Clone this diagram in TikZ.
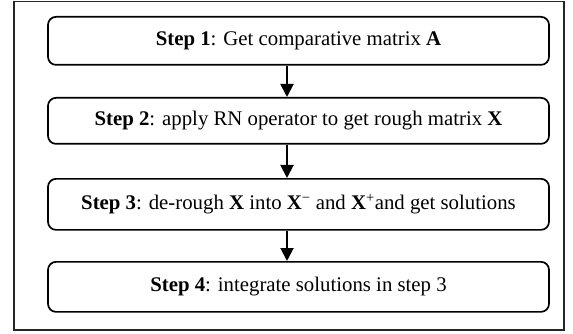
\documentclass[tikz,border=0pt]{standalone}
\usepackage{fontspec}
\setmainfont{Liberation Serif}
\usetikzlibrary{arrows.meta}
\newcommand{\up}[1]{\raisebox{4pt}{#1}}
\begin{document}
\begin{tikzpicture}[x=1pt,y=-1pt,
  stepbox/.style={draw=black,line width=1.7pt,rounded corners=8pt,minimum width=501pt,inner sep=0pt,font=\fontsize{20.8}{24}\selectfont,anchor=north},
  flow/.style={line width=1.9pt,-{Triangle[width=13pt,length=13pt]}}]
\useasboundingbox (0,0) rectangle (573,334);
\draw[line width=1.4pt,draw=black!85] (14,1.5) rectangle (564,330);
\node[stepbox,minimum height=48pt] (b1) at (298.5,16) {\up{\textbf{Step 1}: Get comparative matrix \textbf{A}}};
\node[stepbox,minimum height=46pt] (b2) at (298.5,97) {\up{\textbf{Step 2}: apply RN operator to get rough matrix \textbf{X}}};
\node[stepbox,minimum height=51pt] (b3) at (298.5,178) {\up{\textbf{Step 3}: de-rough \textbf{X} into \textbf{X}\textsuperscript{\char"2212} and \textbf{X}\textsuperscript{+}and get solutions}};
\node[stepbox,minimum height=50pt] (b4) at (298.5,261) {\up{\textbf{Step 4}: integrate solutions in step 3}};
\coordinate (ax) at (287,0);
\draw[flow] (b1.south -| ax) -- (b2.north -| ax);
\draw[flow] (b2.south -| ax) -- (b3.north -| ax);
\draw[flow] (b3.south -| ax) -- (b4.north -| ax);
\end{tikzpicture}
\end{document}
